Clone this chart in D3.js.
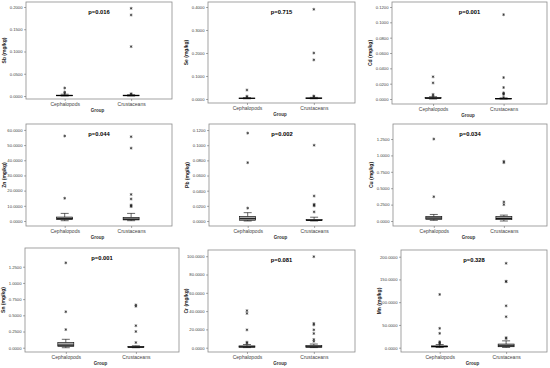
<!DOCTYPE html>
<html>
<head>
<meta charset="utf-8">
<script src="https://cdn.jsdelivr.net/npm/d3@7"></script>
<style>
  body { margin: 0; background: #fff; }
  text { font-family: "Liberation Sans", Arial, sans-serif; }
</style>
</head>
<body>
<script>
// groups on the x axis of every panel
var groups = ["Cephalopods", "Crustaceans"];

// one panel per element
var elements = ["Sb", "Se", "Cd", "Zn", "Pb", "Cu", "Sn", "Cr", "Mn"];
var pValues = ["p=0.016", "p=0.715", "p=0.001", "p=0.044", "p=0.002", "p=0.034", "p=0.001", "p=0.081", "p=0.328"];

var yTicks = [
    [0, 0.05, 0.10, 0.15, 0.20],
    [0, 0.1, 0.2, 0.3, 0.4],
    [0, 0.02, 0.04, 0.06, 0.08, 0.10, 0.12],
    [0, 10, 20, 30, 40, 50, 60],
    [0, 0.02, 0.04, 0.06, 0.08, 0.10, 0.12],
    [0, 0.25, 0.5, 0.75, 1.0, 1.25],
    [0, 0.25, 0.5, 0.75, 1.0, 1.25],
    [0, 20, 40, 60, 80, 100],
    [0, 50, 100, 150, 200]
];
var yDomains = [
    [-0.0067, 0.2112], [-0.0174, 0.4217], [-0.0065, 0.1265],
    [-3.3, 63.9], [-0.0066, 0.128], [-0.076, 1.479],
    [-0.066, 1.539], [-4.7, 106.8], [-9.5, 214.7]
];

// box stats: [whisker low, q1, median, q3, whisker high]
var cephBox = [
    [0, 0.0005, 0.001, 0.002, 0.004],
    [0.001, 0.002, 0.003, 0.004, 0.006],
    [0, 0.0008, 0.0012, 0.002, 0.003],
    [0.2, 0.9, 1.5, 2.6, 5],
    [0, 0.001, 0.003, 0.006, 0.011],
    [0.01, 0.025, 0.045, 0.07, 0.1],
    [0, 0.02, 0.04, 0.08, 0.13],
    [0.1, 0.5, 1, 2, 3.5],
    [0.5, 1.5, 2.5, 4, 7]
];
var crustBox = [
    [0, 0.0005, 0.001, 0.002, 0.003],
    [0.001, 0.002, 0.003, 0.005, 0.007],
    [0, 0.0002, 0.0004, 0.0008, 0.0015],
    [0.2, 0.7, 1.2, 2.4, 5],
    [0, 0.0005, 0.001, 0.002, 0.005],
    [0, 0.02, 0.04, 0.07, 0.09],
    [0, 0.005, 0.01, 0.02, 0.03],
    [0.1, 0.5, 1, 2.5, 4],
    [0.5, 2, 4, 8, 15]
];

// outliers / extremes
var cephOutliers = [
    [0.006, 0.009, 0.018],
    [0.008, 0.012, 0.039],
    [0.004, 0.006, 0.021, 0.029],
    [15, 56],
    [0.017, 0.077, 0.116],
    [0.37, 1.25],
    [0.28, 0.555, 1.31],
    [5, 6, 19.5, 37.5, 40.5],
    [9, 11, 13, 31.5, 42.5, 117]
];
var crustOutliers = [
    [0.004, 0.005, 0.111, 0.182, 0.197],
    [0.01, 0.013, 0.17, 0.2, 0.39],
    [0.002, 0.006, 0.007, 0.008, 0.015, 0.028, 0.11],
    [9.5, 10, 10.5, 14.5, 17.5, 48, 55.5],
    [0.012, 0.02, 0.021, 0.022, 0.033, 0.1],
    [0.25, 0.29, 0.89, 0.91],
    [0.08, 0.25, 0.34, 0.64, 0.66],
    [7, 9, 15.5, 19.5, 25, 26.5, 99.5],
    [20, 22, 68, 92, 145, 146, 185.5]
];

// plot frames (layout)
var frames = [
    {x: 26, y: 2, w: 146, h: 97},
    {x: 208, y: 2, w: 147, h: 101},
    {x: 392, y: 2, w: 155, h: 102},
    {x: 26, y: 124, w: 146, h: 102},
    {x: 209, y: 124, w: 146, h: 102},
    {x: 393, y: 124, w: 154, h: 102},
    {x: 25, y: 248, w: 154, h: 104},
    {x: 208, y: 250, w: 147, h: 102},
    {x: 401, y: 250, w: 146, h: 102}
];

var svg = d3.select("body").append("svg")
    .attr("width", 550).attr("height", 368);

var fmt = d3.format(".4f");
var boxW = 16;
var star = d3.symbol().type(d3.symbolAsterisk || d3.symbolCross).size(6);

elements.forEach(function (el, i) {
    var f = frames[i];
    var g = svg.append("g");

    var y = d3.scaleLinear().domain(yDomains[i]).range([f.y + f.h, f.y]);
    var x = d3.scalePoint().domain(groups).range([f.x + f.w * 0.265, f.x + f.w * 0.72]);

    // frame
    g.append("rect")
        .attr("x", f.x).attr("y", f.y).attr("width", f.w).attr("height", f.h)
        .attr("fill", "none").attr("stroke", "#8c8c8c").attr("stroke-width", 0.8);

    // y axis
    var yAxis = d3.axisLeft(y).tickValues(yTicks[i]).tickFormat(fmt).tickSize(2).tickPadding(1.5);
    var ya = g.append("g").attr("transform", "translate(" + f.x + ",0)").call(yAxis);
    ya.select(".domain").remove();
    ya.selectAll("line").attr("stroke", "#555").attr("stroke-width", 0.5);
    ya.selectAll("text").attr("font-size", 4.2).attr("fill", "#444");

    // x axis
    var xAxis = d3.axisBottom(x).tickSize(2).tickPadding(1.5);
    var xa = g.append("g").attr("transform", "translate(0," + (f.y + f.h) + ")").call(xAxis);
    xa.select(".domain").remove();
    xa.selectAll("line").attr("stroke", "#555").attr("stroke-width", 0.5);
    xa.selectAll("text").attr("font-size", 5).attr("fill", "#444");

    g.append("text")
        .attr("x", f.x + f.w * 0.49).attr("y", f.y + f.h + 12.5)
        .attr("text-anchor", "middle").attr("font-size", 4.5).attr("font-weight", "bold")
        .attr("fill", "#333")
        .text("Group");

    g.append("text")
        .attr("transform", "translate(" + (f.x - 20) + "," + (f.y + f.h / 2) + ") rotate(-90)")
        .attr("text-anchor", "middle").attr("font-size", 5).attr("font-weight", "bold")
        .attr("fill", "#222")
        .text(el + " (mg/kg)");

    g.append("text")
        .attr("x", f.x + f.w * 0.5).attr("y", f.y + 12)
        .attr("text-anchor", "middle").attr("font-size", 5.8).attr("font-weight", "bold")
        .attr("fill", "#000")
        .text(pValues[i]);

    var boxes = [cephBox[i], crustBox[i]];
    var outs = [cephOutliers[i], crustOutliers[i]];

    groups.forEach(function (grp, j) {
        var b = boxes[j];
        var cx = x(grp);
        // whiskers
        g.append("line").attr("x1", cx).attr("x2", cx)
            .attr("y1", y(b[3])).attr("y2", y(b[4]))
            .attr("stroke", "#000").attr("stroke-width", 0.6);
        g.append("line").attr("x1", cx).attr("x2", cx)
            .attr("y1", y(b[1])).attr("y2", y(b[0]))
            .attr("stroke", "#000").attr("stroke-width", 0.6);
        [b[0], b[4]].forEach(function (v) {
            g.append("line").attr("x1", cx - boxW / 4).attr("x2", cx + boxW / 4)
                .attr("y1", y(v)).attr("y2", y(v))
                .attr("stroke", "#000").attr("stroke-width", 0.6);
        });
        // box
        g.append("rect")
            .attr("x", cx - boxW / 2).attr("width", boxW)
            .attr("y", y(b[3])).attr("height", Math.max(0.6, y(b[1]) - y(b[3])))
            .attr("fill", "#a8a8a8").attr("stroke", "#000").attr("stroke-width", 0.6);
        g.append("line").attr("x1", cx - boxW / 2).attr("x2", cx + boxW / 2)
            .attr("y1", y(b[2])).attr("y2", y(b[2]))
            .attr("stroke", "#000").attr("stroke-width", 1);

        // outliers
        g.selectAll(null).data(outs[j]).enter().append("path")
            .attr("d", star)
            .attr("transform", function (d) { return "translate(" + cx + "," + y(d) + ")"; })
            .attr("fill", "#222").attr("stroke", "#222").attr("stroke-width", 0.6);
    });
});
</script>
</body>
</html>
